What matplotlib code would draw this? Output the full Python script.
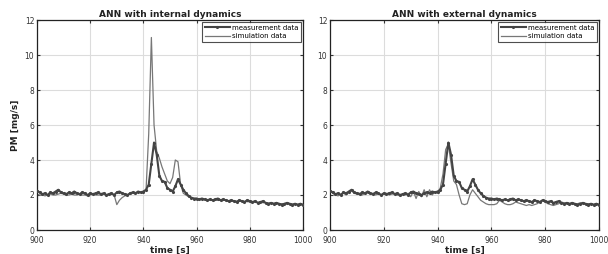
import numpy as np
import matplotlib
matplotlib.use("Agg")
import matplotlib.pyplot as plt

# ---- data (1 s resolution, t = 900..1000) ----
measurement = [
    2.25, 2.15, 2.05, 2.10, 2.00, 2.15, 2.10, 2.20, 2.30, 2.15,
    2.10, 2.05, 2.15, 2.10, 2.20, 2.10, 2.05, 2.15, 2.10, 2.00,
    2.10, 2.05, 2.10, 2.15, 2.05, 2.10, 2.00, 2.05, 2.10, 2.00,
    2.15, 2.20, 2.10, 2.05, 2.00, 2.10, 2.15, 2.10, 2.20, 2.15,
    2.20, 2.30, 2.60, 3.80, 5.00, 4.30, 3.10, 2.80, 2.75, 2.40,
    2.30, 2.20, 2.50, 2.90, 2.60, 2.30, 2.10, 1.95, 1.85, 1.80,
    1.80, 1.75, 1.80, 1.75, 1.70, 1.75, 1.70, 1.75, 1.80, 1.70,
    1.75, 1.70, 1.65, 1.70, 1.65, 1.60, 1.70, 1.65, 1.60, 1.70,
    1.65, 1.60, 1.65, 1.55, 1.60, 1.65, 1.55, 1.50, 1.55, 1.50,
    1.55, 1.50, 1.45, 1.50, 1.55, 1.50, 1.45, 1.50, 1.45, 1.50,
    1.45,
]
sim_internal = [
    2.05, 2.00, 2.00, 1.95, 2.00, 2.05, 2.00, 2.00, 2.05, 2.10,
    2.05, 2.00, 2.00, 2.05, 2.00, 2.00, 2.05, 2.00, 2.00, 1.95,
    2.00, 2.05, 2.00, 2.00, 2.00, 2.05, 2.00, 2.00, 2.05, 2.00,
    1.45, 1.70, 1.85, 1.95, 2.00, 2.05, 2.10, 2.10, 2.15, 2.15,
    2.20, 2.30, 5.50, 11.0, 6.00, 4.50, 4.10, 3.60, 3.20, 2.80,
    2.65, 3.00, 4.00, 3.90, 2.60, 2.10, 2.00, 1.90, 1.85, 1.80,
    1.80, 1.78, 1.76, 1.75, 1.74, 1.73, 1.72, 1.72, 1.71, 1.70,
    1.70, 1.69, 1.68, 1.67, 1.66, 1.65, 1.65, 1.64, 1.63, 1.62,
    1.61, 1.60, 1.59, 1.58, 1.57, 1.56, 1.55, 1.54, 1.53, 1.52,
    1.52, 1.51, 1.50, 1.50, 1.49, 1.48, 1.48, 1.47, 1.46, 1.46,
    1.45,
]
sim_external = [
    2.30, 2.10, 2.00, 1.95, 2.05, 2.10, 2.00, 2.15, 2.25, 2.10,
    2.05, 2.10, 2.00, 2.10, 2.15, 2.05, 2.10, 2.00, 2.10, 2.00,
    2.05, 2.10, 2.00, 2.05, 2.10, 2.00, 1.95, 2.05, 2.00, 2.10,
    1.90, 2.20, 1.80, 2.20, 1.90, 2.30, 1.90, 2.30, 2.00, 2.20,
    2.10, 2.40, 3.20, 4.60, 4.90, 3.80, 2.80, 2.60, 2.00, 1.50,
    1.45, 1.50, 2.00, 2.30, 2.10, 1.90, 1.70, 1.60, 1.50, 1.45,
    1.45, 1.45, 1.50, 1.70, 1.60, 1.50, 1.45, 1.45, 1.50, 1.60,
    1.55, 1.50, 1.45, 1.40, 1.45, 1.40, 1.45, 1.50, 1.60, 1.70,
    1.60, 1.50, 1.45, 1.40, 1.45, 1.50, 1.60, 1.55, 1.50, 1.45,
    1.50, 1.45, 1.50, 1.55, 1.50, 1.45, 1.50, 1.50, 1.45, 1.50,
    1.45,
]
titles = ["ANN with internal dynamics", "ANN with external dynamics"]
legend_labels = ["measurement data", "simulation data"]
xticks = [900, 920, 940, 960, 980, 1000]
yticks = [0, 2, 4, 6, 8, 10, 12]

t_meas = np.arange(900, 900 + len(measurement))
t_int = np.arange(900, 900 + len(sim_internal))
t_ext = np.arange(900, 900 + len(sim_external))

fig = plt.figure(figsize=(6.08, 2.54), dpi=100)
ax1 = fig.add_axes([37 / 608, 24 / 254, 266 / 608, 210 / 254])
ax2 = fig.add_axes([330 / 608, 24 / 254, 269 / 608, 210 / 254])

meas_col = "#444444"
sim_col = "#777777"

for ax, title, (ts, sim) in zip([ax1, ax2], titles,
                                [(t_int, sim_internal), (t_ext, sim_external)]):
    ax.plot(t_meas, measurement, color=meas_col, lw=1.5, marker='.',
            ms=2.5, label=legend_labels[0], zorder=3)
    ax.plot(ts, sim, color=sim_col, lw=0.9, label=legend_labels[1], zorder=2)
    ax.set_xlim(900, 1000)
    ax.set_ylim(0, 12)
    ax.set_xticks(xticks)
    ax.set_yticks(yticks)
    ax.grid(True, color="#dcdcdc", lw=0.8)
    ax.tick_params(direction='in', length=2.5, labelsize=5.5, colors='#333333',
                   top=True, right=True, pad=2)
    ax.tick_params(axis='x', pad=4)
    for sp in ax.spines.values():
        sp.set_color('#222222')
        sp.set_linewidth(0.9)
    ax.set_title(title, fontsize=6.5, fontweight='bold', pad=2, color='#222222')
    ax.set_xlabel("time [s]", fontsize=6.5, fontweight='bold', labelpad=1,
                  color='#222222')
    leg = ax.legend(loc='upper right', fontsize=5, frameon=True, fancybox=False,
                    borderaxespad=0.25, handlelength=3.5, handletextpad=0.3,
                    labelspacing=0.35, borderpad=0.45)
    leg.get_frame().set_edgecolor('#222222')
    leg.get_frame().set_linewidth(0.8)

ax1.set_ylabel("PM [mg/s]", fontsize=6.5, fontweight='bold', labelpad=3,
               color='#222222')

fig.savefig("out.png", dpi=100)
